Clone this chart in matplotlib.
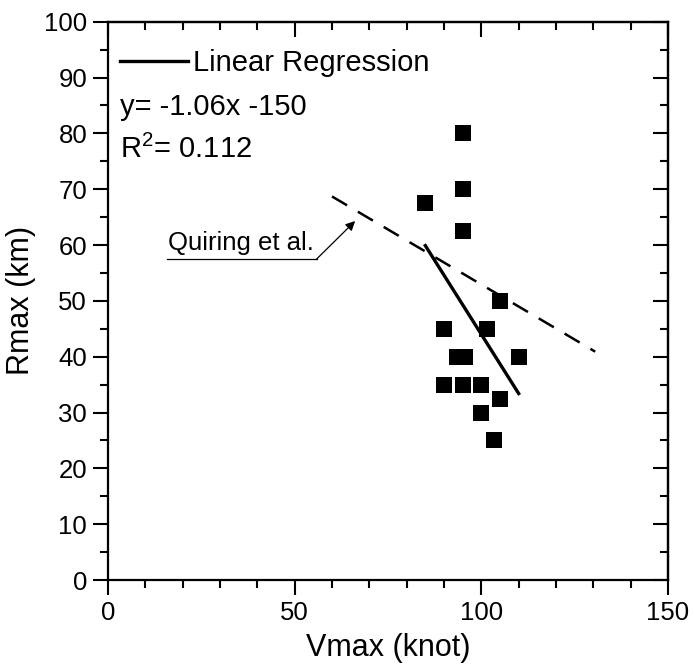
import matplotlib
matplotlib.use("Agg")
import matplotlib.pyplot as plt
import numpy as np

# Data
vmax = [95, 95, 85, 95, 105, 90, 101.5, 93.5, 95.5, 110, 90, 95, 100, 105, 100, 103.5]
rmax = [80, 70, 67.5, 62.5, 50, 45, 45, 40, 40, 40, 35, 35, 35, 32.5, 30, 25]
reg_slope, reg_intercept = -1.06, 150.0
reg_x = [85, 110]
quiring_x = [60, 130.5]
quiring_y = [68.7, 40.9]
xticks = [0, 50, 100, 150]
yticks = [0, 10, 20, 30, 40, 50, 60, 70, 80, 90, 100]

plt.rcParams['font.family'] = ['Liberation Sans', 'DejaVu Sans']
plt.rcParams['mathtext.fontset'] = 'custom'
plt.rcParams['mathtext.rm'] = 'Liberation Sans'
plt.rcParams['mathtext.it'] = 'Liberation Sans:italic'
plt.rcParams['mathtext.bf'] = 'Liberation Sans:bold'

fig = plt.figure(figsize=(6.94, 6.72), dpi=100)
ax = fig.add_axes([108/694, 92/672, 560/694, 558.3/672])

ax.scatter(vmax, rmax, marker='s', s=125, color='black', zorder=3, linewidths=0)
rx = np.array(reg_x, dtype=float)
ax.plot(rx, reg_slope * rx + reg_intercept, color='black', lw=2.4,
        label='Linear Regression', zorder=4)
ax.plot(quiring_x, quiring_y, color='black', lw=1.8, dashes=(7, 5), zorder=2)

# annotation for Quiring
ax.plot([15.7, 55.9], [57.5, 57.5], color='black', lw=0.9)
ax.annotate('', xy=(66.2, 64.3), xytext=(55.9, 57.5),
            arrowprops=dict(arrowstyle='-|>', color='black', lw=0.9,
                            mutation_scale=14, shrinkA=0, shrinkB=0))
ax.text(16.0, 58.3, 'Quiring et al.', fontsize=18.5, ha='left', va='bottom')

leg = ax.legend(loc='upper left', frameon=False, fontsize=21,
                handlelength=2.35, handletextpad=0.15,
                borderaxespad=0.0, bbox_to_anchor=(0.0, 0.972))
ax.text(0.021, 0.847, 'y= -1.06x -150', transform=ax.transAxes,
        fontsize=21, ha='left', va='center')
ax.text(0.021, 0.772, 'R$^{2}$= 0.112', transform=ax.transAxes,
        fontsize=21, ha='left', va='center')

ax.set_xlim(0, 150)
ax.set_ylim(0, 100)
ax.set_xticks(xticks)
ax.set_yticks(yticks)
ax.set_xticks(np.arange(0, 151, 10), minor=True)
ax.set_yticks(np.arange(0, 101, 5), minor=True)
ax.tick_params(which='major', direction='out', length=11, width=1.5,
               labelsize=18.5, pad=4)
ax.tick_params(which='minor', direction='out', length=5.5, width=1.5)
for s in ax.spines.values():
    s.set_linewidth(1.6)

# mirrored inward ticks on top and right
axr = ax.secondary_yaxis('right')
axr.set_yticks(yticks)
axr.set_yticks(np.arange(0, 101, 5), minor=True)
axr.tick_params(which='major', direction='in', length=11, width=1.5, labelright=False)
axr.tick_params(which='minor', direction='in', length=5.5, width=1.5)
axr.spines['right'].set_linewidth(1.6)
axt = ax.secondary_xaxis('top')
axt.set_xticks(xticks)
axt.set_xticks(np.arange(0, 151, 10), minor=True)
axt.tick_params(which='major', direction='in', length=11, width=1.5, labeltop=False)
axt.tick_params(which='minor', direction='in', length=5.5, width=1.5)
axt.spines['top'].set_linewidth(1.6)

ax.set_xlabel('Vmax (knot)', fontsize=22, labelpad=6)
ax.set_ylabel('Rmax (km)', fontsize=22, labelpad=6)

fig.savefig('out.png', dpi=100)
